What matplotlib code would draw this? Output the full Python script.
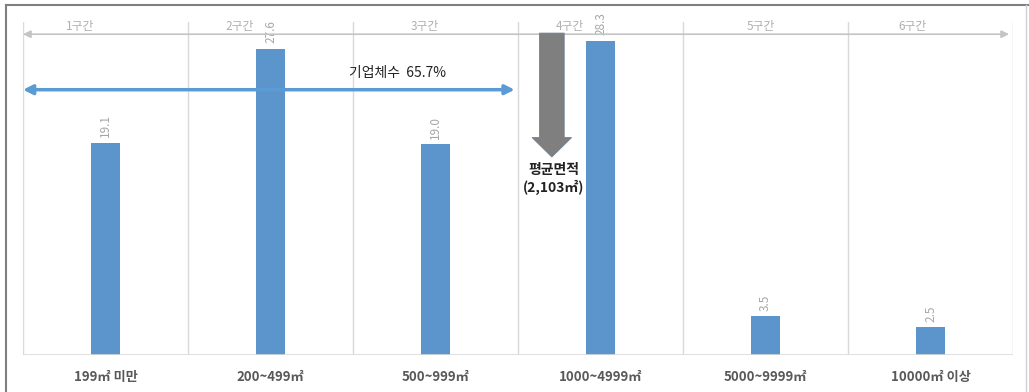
import numpy as np
import matplotlib.pyplot as plt
from matplotlib.patches import FancyArrow
from matplotlib.lines import Line2D

plt.rcParams['font.family'] = ['Noto Sans CJK KR', 'DejaVu Sans']

# 데이터
categories = ["199㎡ 미만", "200~499㎡", "500~999㎡", "1000~4999㎡", "5000~9999㎡", "10000㎡ 이상"]
values = [19.1, 27.6, 19.0, 28.3, 3.5, 2.5]
value_labels = ["19.1", "27.6", "19.0", "28.3", "3.5", "2.5"]
sections = ["1구간", "2구간", "3구간", "4구간", "5구간", "6구간"]
section_x = [-0.155, 0.815, 1.936, 2.815, 3.97, 4.89]
share_text = "기업체수  65.7%"
mean_x = 2.705

fig = plt.figure(figsize=(10.29, 3.92), dpi=100)
ax = fig.add_axes([23/1029, 1-355/392, 990/1029, 333/392])

x = np.arange(len(categories))
ax.bar(x, values, width=0.18, color='#5b95cc', zorder=3)

ax.set_xlim(-0.5, 5.5)
ax.set_ylim(0, 30)

# 구간 경계선
for b in np.arange(-0.5, 6, 1):
    ax.axvline(b, color='#d9d9d9', lw=1, zorder=1)
ax.axhline(0, color='#d9d9d9', lw=1.2, zorder=4)

for s in ax.spines.values():
    s.set_visible(False)
ax.set_yticks([])
ax.set_xticks(x)
ax.set_xticklabels(categories, fontsize=9.5, fontweight='bold', color='#595959')
ax.tick_params(axis='x', length=0, pad=11)

# 값 라벨
for xi, v, t in zip(x, values, value_labels):
    ax.annotate(t, (xi, v), xytext=(0, 4), textcoords='offset points',
                rotation=90, ha='center', va='bottom', fontsize=8.5,
                color='#a6a6a6', annotation_clip=False)

# 구간 화살표
ax.annotate('', xy=(5.476, 28.9), xytext=(-0.5, 28.9),
            arrowprops=dict(arrowstyle='<|-|>', color='#c4c4c4', lw=1.2,
                            mutation_scale=11, shrinkA=0, shrinkB=0))
for sx, st in zip(section_x, sections):
    ax.text(sx, 29.6, st, ha='center', va='center', fontsize=8.5, color='#b0b0b0')

# 기업체수 화살표
ax.annotate('', xy=(2.48, 23.9), xytext=(-0.5, 23.9),
            arrowprops=dict(arrowstyle='<|-|>', color='#5b9bd5', lw=2.5,
                            mutation_scale=14, shrinkA=0, shrinkB=0), zorder=5)
ax.text(1.77, 25.4, share_text, ha='center', va='center', fontsize=10, color='#222222')

# 평균면적 화살표
arr = FancyArrow(mean_x, 29.0, 0, -11.16, width=0.15, head_width=0.24,
                 head_length=1.75, length_includes_head=True,
                 facecolor='#7f7f7f', edgecolor='#6f8296', lw=0.6, zorder=5)
ax.add_patch(arr)
ax.text(mean_x + 0.01, 16.7, "평균면적", ha='center', va='center', fontsize=10,
        fontweight='bold', color='#222222')
ax.text(mean_x + 0.01, 15.1, "(2,103㎡)", ha='center', va='center', fontsize=10,
        fontweight='bold', color='#222222')

# 바깥 테두리
fig.add_artist(Line2D([6/1029, 6/1029], [0, 1-5/392], transform=fig.transFigure, color='#808080', lw=1.5))
fig.add_artist(Line2D([6/1029, 1], [1-5/392, 1-5/392], transform=fig.transFigure, color='#808080', lw=1.5))
fig.add_artist(Line2D([1026/1029, 1026/1029], [0, 1-5/392], transform=fig.transFigure, color='#d0d0d0', lw=1))

fig.savefig('out.png', dpi=100, facecolor='white')
